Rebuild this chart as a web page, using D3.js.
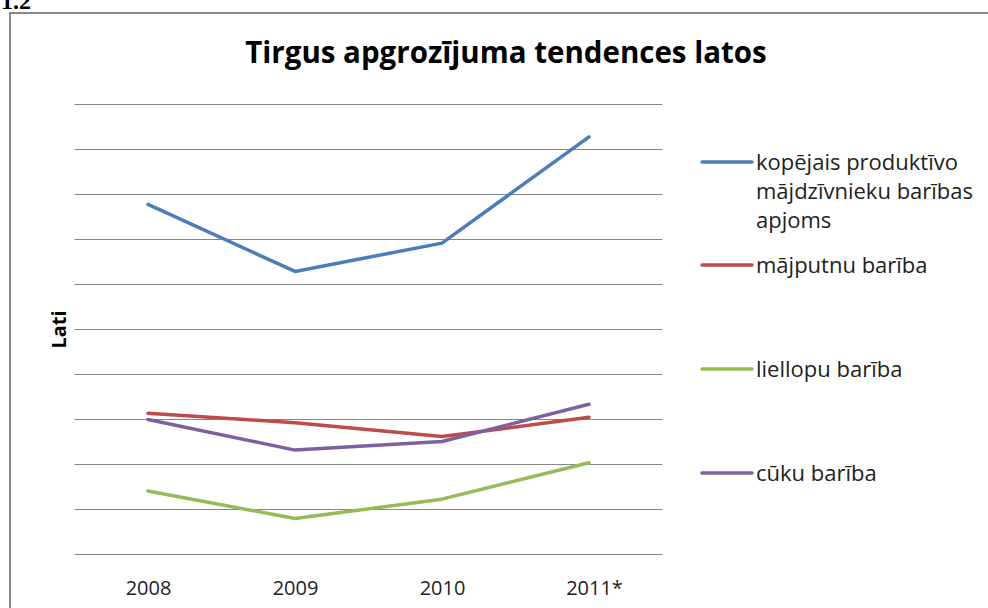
<!DOCTYPE html>
<html>
<head>
<meta charset="utf-8">
<script src="https://cdn.jsdelivr.net/npm/d3@7"></script>
<style>
  html, body { margin: 0; padding: 0; background: #fff; overflow: hidden; }
  svg { display: block; }
</style>
</head>
<body>
<div id="chart"></div>
<script>
// data (units of one grid step, no tick labels shown)
const years = ["2008", "2009", "2010", "2011*"];
const seriesNames = [
    ["kopējais produktīvo", "mājdzīvnieku barības", "apjoms"],
    ["mājputnu barība"],
    ["liellopu barība"],
    ["cūku barība"]
];
const kopejais = [7.78, 6.29, 6.92, 9.28];
const majputnu = [3.14, 2.93, 2.62, 3.05];
const liellopu = [1.41, 0.80, 1.23, 2.04];
const cuku = [3.00, 2.32, 2.51, 3.34];
const gridTicks = [0, 1, 2, 3, 4, 5, 6, 7, 8, 9, 10];
const colors = ["#4a7ebb", "#be4b48", "#98b954", "#7d60a0"];

const series = [kopejais, majputnu, liellopu, cuku];

const W = 988, H = 608;
const plot = { left: 74.5, right: 662.5, top: 104.5, bottom: 554.5 };
const font = "'Open Sans', sans-serif";

const svg = d3.select("#chart").append("svg")
    .attr("width", W)
    .attr("height", H);

// chart frame
svg.append("rect")
    .attr("x", 10).attr("y", 13)
    .attr("width", W + 20).attr("height", H + 20)
    .attr("fill", "none")
    .attr("stroke", "#888")
    .attr("stroke-width", 2);

// cut-off caption above the frame
svg.append("text")
    .attr("x", 1).attr("y", 9)
    .style("font-family", "Liberation Serif")
    .style("font-weight", "bold")
    .style("font-size", "24px")
    .text("1.2");

const x = d3.scalePoint()
    .domain(years)
    .range([plot.left, plot.right])
    .padding(0.5);

const y = d3.scaleLinear()
    .domain([0, 10])
    .range([plot.bottom, plot.top]);

// gridlines
svg.append("g")
    .selectAll("line")
    .data(gridTicks)
    .join("line")
    .attr("x1", plot.left)
    .attr("x2", plot.right)
    .attr("y1", d => y(d))
    .attr("y2", d => y(d))
    .attr("stroke", "#868686")
    .attr("stroke-width", 1);

// x axis labels
const xAxis = svg.append("g")
    .attr("transform", `translate(0,${plot.bottom})`)
    .call(d3.axisBottom(x).tickSize(0));
xAxis.select(".domain").remove();
xAxis.selectAll("text")
    .attr("y", 40)
    .attr("dy", 0)
    .attr("dx", (d, i) => i === 3 ? "5" : "0")
    .attr("fill", "#222")
    .style("font-family", font)
    .style("font-size", "20px");

// title
svg.append("text")
    .attr("x", 506).attr("y", 63)
    .attr("text-anchor", "middle")
    .style("font-family", font)
    .style("font-weight", "bold")
    .style("font-size", "29.5px")
    .text("Tirgus apgrozījuma tendences latos");

// y axis title
svg.append("text")
    .attr("transform", `translate(66,${(plot.top + plot.bottom) / 2}) rotate(-90)`)
    .attr("text-anchor", "middle")
    .style("font-family", font)
    .style("font-weight", "bold")
    .style("font-size", "20px")
    .text("Lati");

// lines
const line = d3.line()
    .x((d, i) => x(years[i]))
    .y(d => y(d));

svg.append("g")
    .selectAll("path")
    .data(series)
    .join("path")
    .attr("d", d => line(d))
    .attr("fill", "none")
    .attr("stroke", (d, i) => colors[i])
    .attr("stroke-width", 3.5)
    .attr("stroke-linejoin", "round")
    .attr("stroke-linecap", "round");

// legend
const legendY = [162, 265, 369, 473];
const legend = svg.append("g");
seriesNames.forEach((names, i) => {
    const g = legend.append("g").attr("transform", `translate(0,${legendY[i]})`);
    g.append("line")
        .attr("x1", 702).attr("x2", 752)
        .attr("y1", 0).attr("y2", 0)
        .attr("stroke", colors[i])
        .attr("stroke-width", 3.5)
        .attr("stroke-linecap", "round");
    names.forEach((t, j) => {
        g.append("text")
            .attr("x", 756)
            .attr("y", 8 + j * 29)
            .attr("fill", "#222")
            .style("font-family", font)
            .style("font-size", "22px")
            .text(t);
    });
});
</script>
</body>
</html>
